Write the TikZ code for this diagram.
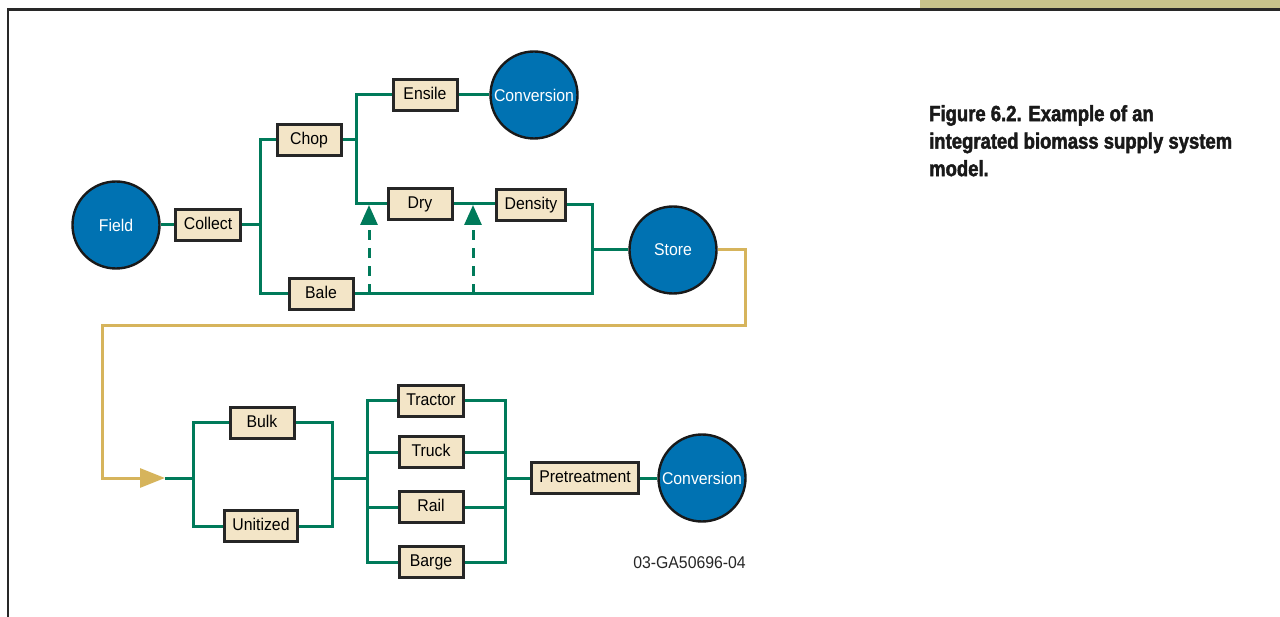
\documentclass[tikz,border=0pt]{standalone}
\usepackage{fontspec}
\setmainfont{Liberation Sans}[FakeStretch=0.93]
\newfontfamily\capfont{Liberation Sans}[FakeStretch=0.84,FakeBold=2]
\usetikzlibrary{arrows.meta}
\definecolor{lgreen}{RGB}{0,122,90}
\definecolor{cblue}{RGB}{0,114,178}
\definecolor{cream}{RGB}{243,229,199}
\definecolor{khaki}{RGB}{214,180,92}
\definecolor{band}{RGB}{200,195,140}
\definecolor{framec}{RGB}{40,40,40}
\tikzset{
  box/.style={draw=black!85, fill=cream, line width=3pt, minimum height=31pt,
    minimum width=64pt, inner xsep=8pt, text height=12.5pt, text depth=3.5pt,
    font=\fontsize{17}{20}\selectfont},
  circ/.style={circle, draw=black!90, fill=cblue, line width=2.4pt, minimum size=87pt,
    inner sep=0pt, text=white, font=\fontsize{17}{20}\selectfont},
  link/.style={draw=lgreen, line width=3pt},
  dlink/.style={draw=lgreen, line width=3pt, dash pattern=on 10pt off 8pt,
    -{Triangle[length=20pt,width=17pt]}},
  klink/.style={draw=khaki, line width=3pt, -{Triangle[length=25pt,width=19pt]}},
  frame/.style={draw=framec, line width=2.2pt},
}
\begin{document}
\begin{tikzpicture}[x=1pt,y=-1pt]
\useasboundingbox (0,0) rectangle (1280,617);
% frame and band
\fill[band] (920,0) rectangle (1280,8);
\draw[frame] (8,617) -- (8,9.5) -- (1280,9.5);

% upper part nodes
\node[circ] (field) at (116,225) {Field};
\node[box] (collect) at (208,225) {Collect};
\node[box] (chop) at (309,140) {Chop};
\node[box] (bale) at (321,294) {Bale};
\node[box] (ensile) at (425,95) {Ensile};
\node[circ] (conv1) at (534,95) {Conversion};
\node[box] (dry) at (420,204) {Dry};
\node[box] (density) at (531,205) {Density};
\node[circ] (store) at (673,250) {Store};

\coordinate (j1) at (260,225);
\coordinate (jc) at (356,140);
\coordinate (jd) at (592,250);
\coordinate (a1) at (369,294);
\coordinate (a1t) at (369,205);
\coordinate (a2) at (473,294);
\coordinate (a2t) at (473,205);

\draw[link] (field.east) -- (collect.west);
\draw[link] (collect.east) -- (j1);
\draw[link] (chop.west) -| (j1) |- (bale.west);
\draw[link] (chop.east) -- (jc);
\draw[link] (ensile.west) -| (jc) |- (dry.west);
\draw[link] (ensile.east) -- (conv1.west);
\draw[link] (dry.east) -- (dry.east -| density.west);
\draw[link] (density.east) -| (jd) |- (bale.east);
\draw[link] (jd) -- (store.west);
\draw[dlink] (a1) -- (a1t);
\draw[dlink] (a2) -- (a2t);

% khaki connector
\coordinate (k1) at (745,326);
\coordinate (k2) at (102,478);
\coordinate (kin) at (165,478);
\draw[klink] (store.east) -| (k1) -| (k2) -- (kin);

% lower part nodes
\node[box] (bulk) at (262,423) {Bulk};
\node[box] (unitized) at (261,526) {Unitized};
\node[box] (tractor) at (431,401) {Tractor};
\node[box] (truck) at (431,452) {Truck};
\node[box] (rail) at (431,507) {Rail};
\node[box] (barge) at (431,562) {Barge};
\node[box] (pret) at (585,478) {Pretreatment};
\node[circ] (conv2) at (702,478) {Conversion};

\coordinate (jb) at (193,478);
\coordinate (ju) at (332,478);
\coordinate (jt) at (367,478);
\coordinate (jr) at (505,478);

\draw[link] (kin) -- (jb);
\draw[link] (bulk.west) -| (jb) |- (unitized.west);
\draw[link] (bulk.east) -| (ju) |- (unitized.east);
\draw[link] (ju) -- (jt);
\draw[link] (tractor.west) -| (jt) |- (barge.west);
\draw[link] (truck.west) -- (truck.west -| jt);
\draw[link] (rail.west) -- (rail.west -| jt);
\draw[link] (tractor.east) -| (jr) |- (barge.east);
\draw[link] (truck.east) -- (truck.east -| jr);
\draw[link] (rail.east) -- (rail.east -| jr);
\draw[link] (jr) -- (pret.west);
\draw[link] (pret.east) -- (conv2.west);

\node[anchor=base east, inner sep=0pt, font=\fontsize{17}{20}\selectfont, text=black!85] (code) at (746,568) {03-GA50696-04};

\node[anchor=north west, inner sep=0pt, align=left, text=black!90,
  font=\capfont\bfseries\fontsize{22}{27.5}\selectfont] (cap) at (929,105)
  {Figure 6.2. Example of an\\integrated biomass supply system\\model.};
\end{tikzpicture}
\end{document}
